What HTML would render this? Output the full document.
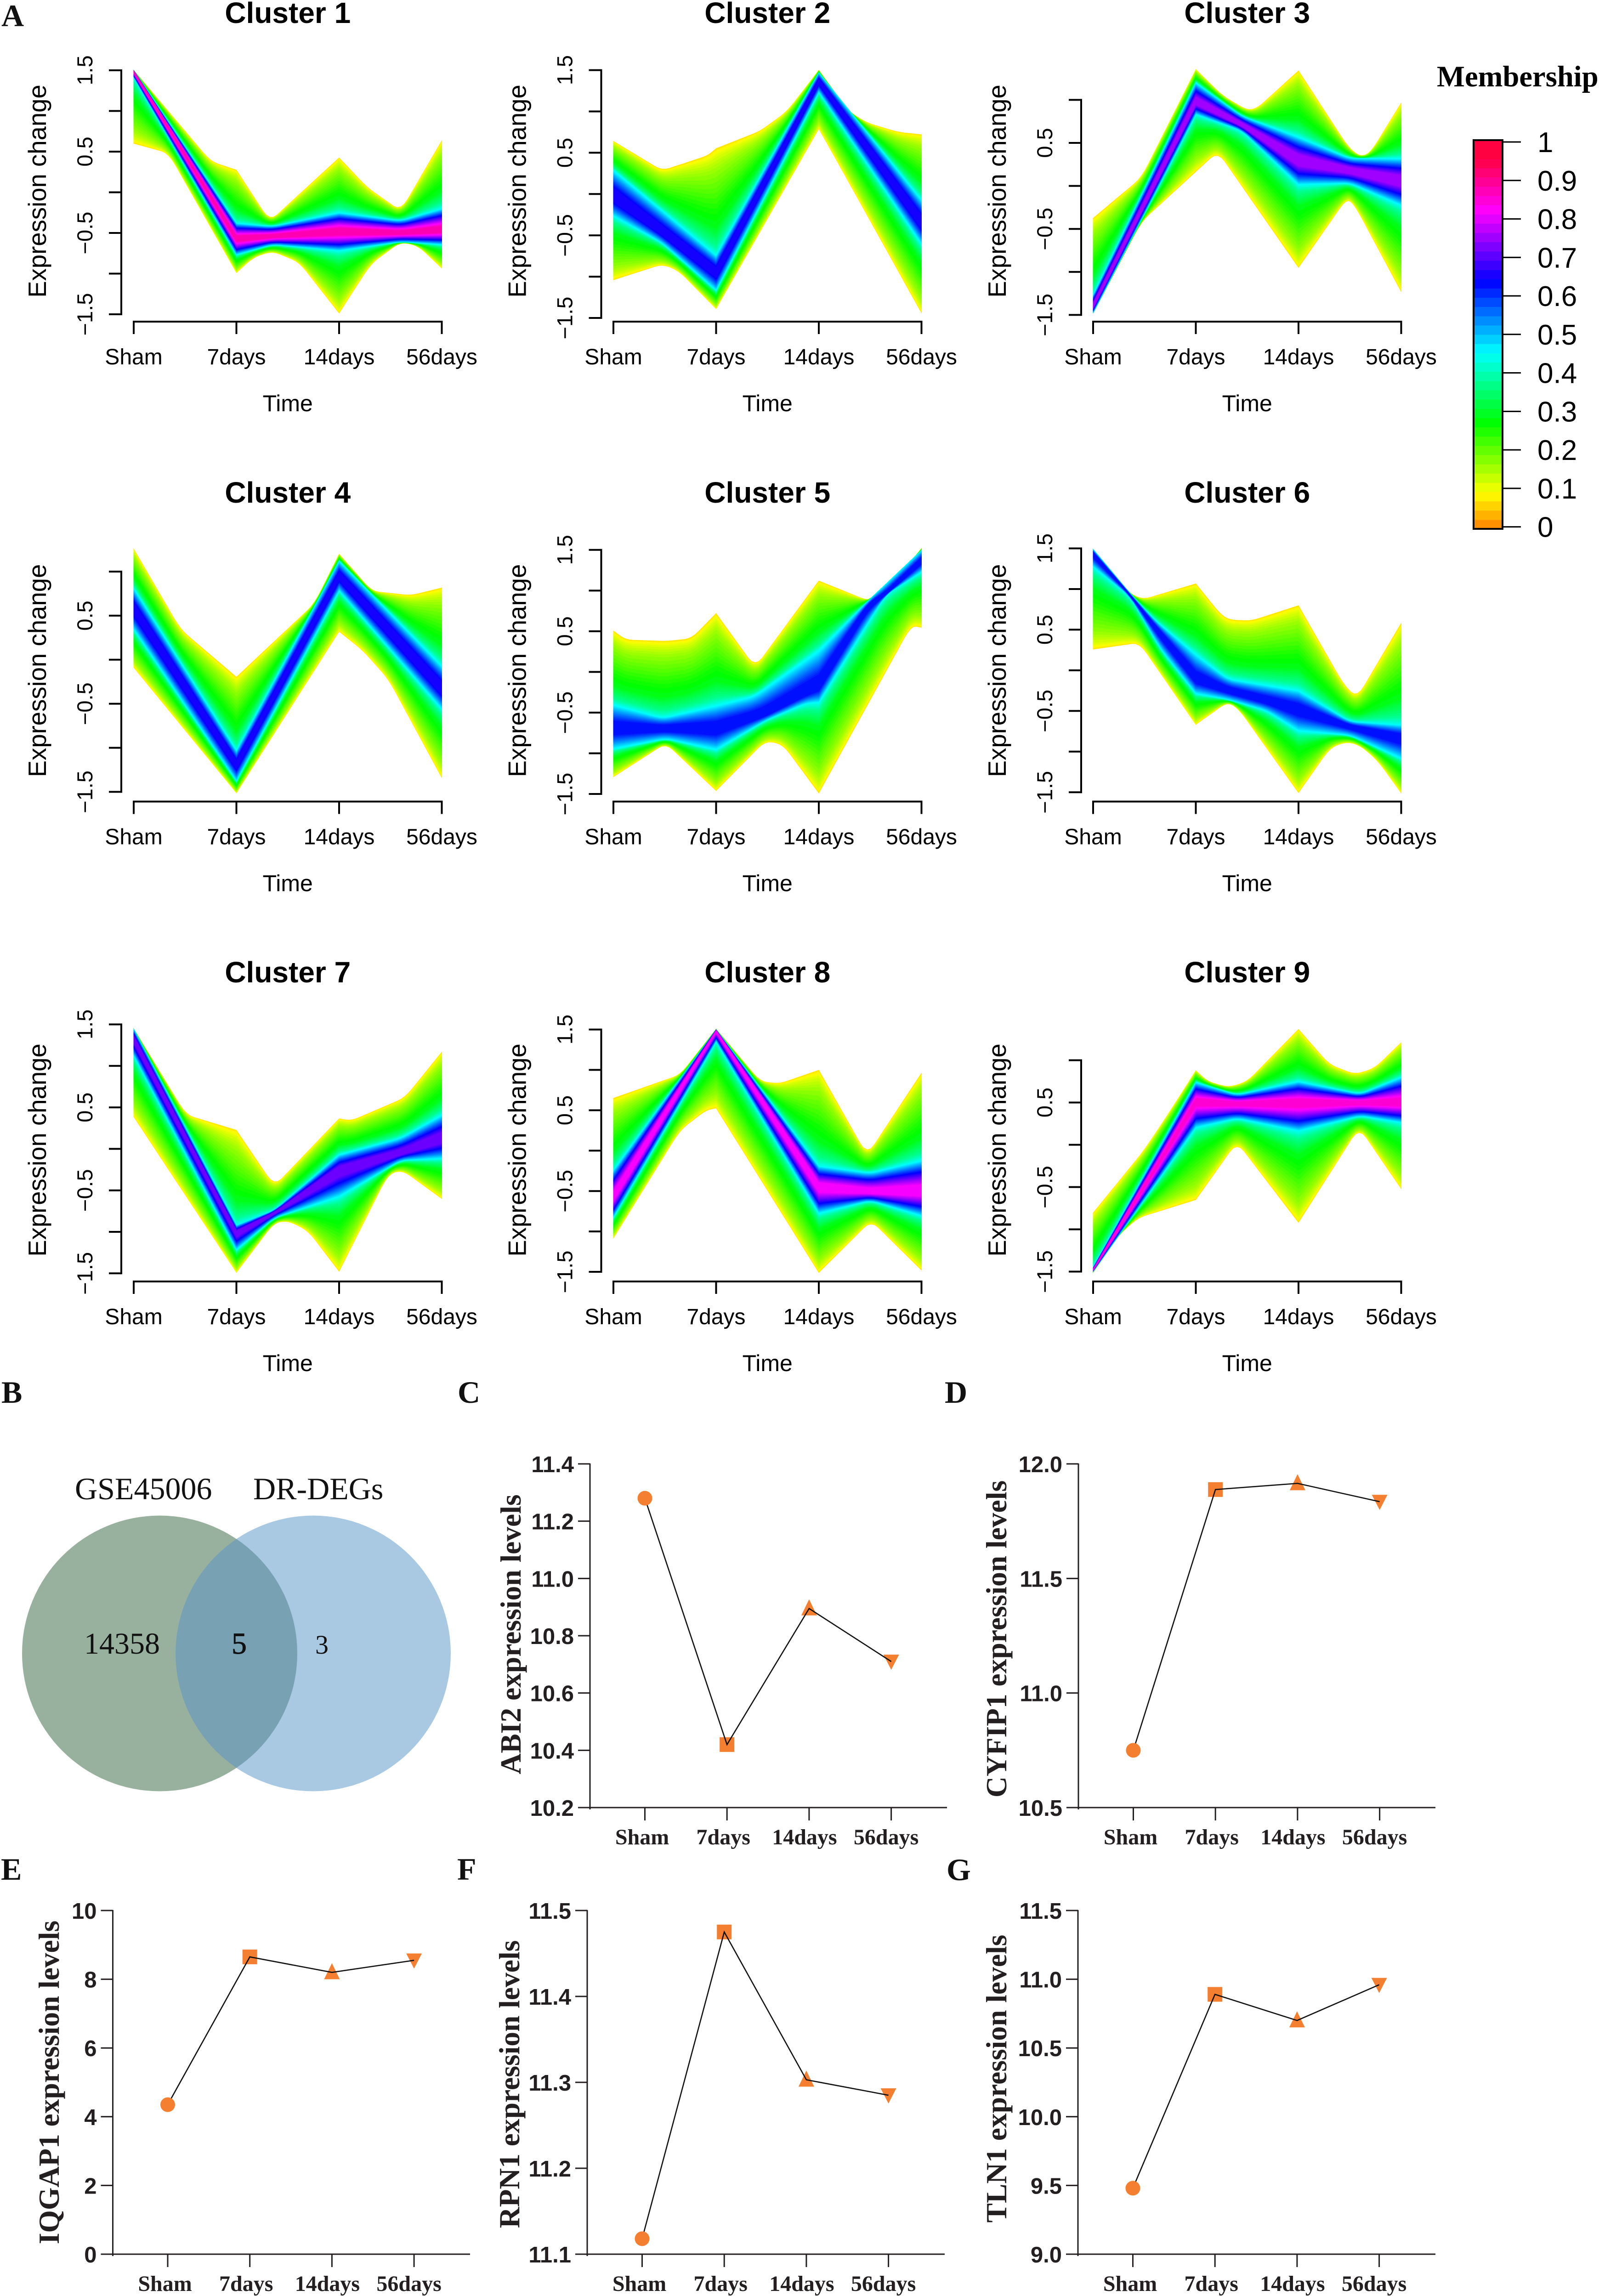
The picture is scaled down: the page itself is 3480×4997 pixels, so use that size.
<!DOCTYPE html>
<html lang="en">
<head>
<meta charset="utf-8">
<title>Expression clusters and gene expression levels</title>
<style>
html,body{margin:0;padding:0;background:#fff;}
svg{display:block;}
.sans{font-family:"Liberation Sans",Arial,sans-serif;}
.serif{font-family:"Liberation Serif","Times New Roman",serif;}
</style>
</head>
<body>
<svg id="figure" xmlns="http://www.w3.org/2000/svg" width="3480" height="4997" viewBox="0 0 3480 4997">
  <rect x="0" y="0" width="3480" height="4997" fill="#ffffff"/>

  <g class="serif" font-weight="700" font-size="68" fill="#111">
    <text x="3" y="57">A</text>
    <text x="3" y="3053">B</text>
    <text x="996" y="3053">C</text>
    <text x="2056" y="3053">D</text>
    <text x="2" y="4091">E</text>
    <text x="995" y="4091">F</text>
    <text x="2060" y="4092">G</text>
  </g>

  <g id="fans"></g>

  <g id="legend">
    <text class="serif" font-weight="700" font-size="64.6" x="3127" y="188" fill="#000">Membership</text>
  </g>

  <g>
    <defs>
      <clipPath id="venn-left-clip"><ellipse cx="347.5" cy="3598.5" rx="299.5" ry="300"/></clipPath>
    </defs>
    <ellipse cx="347.5" cy="3598.5" rx="299.5" ry="300" fill="#97b19e"/>
    <ellipse cx="681.5" cy="3598.5" rx="299.5" ry="300" fill="#a9c8e2"/>
    <ellipse cx="681.5" cy="3598.5" rx="299.5" ry="300" fill="#78a1b4" clip-path="url(#venn-left-clip)"/>
    <g class="serif" fill="#111">
      <text x="163" y="3263" font-size="68">GSE45006</text>
      <text x="551" y="3263" font-size="68">DR-DEGs</text>
      <text x="183" y="3599" font-size="66">14358</text>
      <text x="504" y="3599" font-size="66" stroke="#111" stroke-width="1">5</text>
      <text x="686" y="3599" font-size="58">3</text>
    </g>
  </g>

  <g id="lines"></g>
</svg>

<script>
/* ---------- Cluster fan charts: values ---------- */
const timeLabels = ['Sham', '7days', '14days', '56days'];
const clusterTitles = ['Cluster 1','Cluster 2','Cluster 3','Cluster 4','Cluster 5','Cluster 6','Cluster 7','Cluster 8','Cluster 9'];

/* Each polyline is a flat list: time index, expression change, time index, expression change ... */
const upperEnvelope = [
  [0,1.5, .75,.38, 1,.274, 1.325,-.357, 2,.425, 2.275,.058, 2.6,-.23, 3,.635],
  [0,.639, .474,.284, .917,.465, 1,.552, 1.43,.763, 1.69,1.0, 2,1.5, 2.29,1.0, 2.47,.862, 2.77,.75, 3,.72],
  [0,-.375, .47,.095, 1,1.355, 1.26,1.05, 1.5,.88, 1.6,.905, 2,1.34, 2.485,.45, 2.6,.34, 2.7,.385, 3,.965],
  [0,1.258, .456,.344, 1,-.197, 1.76,.636, 2,1.2, 2.32,.777, 2.7,.73, 3,.816],
  [0,.505, .12,.395, .51,.378, .76,.41, 1,.72, 1.38,.055, 2,1.12, 2.48,.875, 2.65,.957, 3,1.52],
  [0,1.49, .358,.94, .49,.874, 1,1.066, 1.24,.69, 1.33,.62, 1.54,.61, 2,.797, 2.44,-.176, 2.57,-.34, 3,.58],
  [0,1.447, .51,.41, 1,.226, 1.37,-.45, 2,.364, 2.12,.34, 2.64,.616, 3,1.167],
  [0,.65, .65,.94, 1,1.505, 1.43,.856, 1.62,.83, 2,.998, 2.47,-.06, 3,.96],
  [0,-.806, .49,-.074, .737,.376, 1,.878, 1.117,.748, 1.32,.68, 1.5,.748, 2,1.367, 2.3,.95, 2.55,.833, 2.74,.905, 3,1.21]
];
const lowerEnvelope = [
  [0,.6, .338,.483, 1,-.99, 1.166,-.8, 1.35,-.725, 1.61,-.86, 2,-1.486, 2.31,-.88, 2.6,-.61, 2.77,-.66, 3,-.934],
  [0,-1.04, .474,-.85, .63,-.924, 1,-1.39, 2,.79, 2.23,.28, 3,-1.44],
  [0,-1.48, .47,-.416, 1.214,.4, 2,-.95, 2.47,-.144, 2.55,-.23, 3,-1.23],
  [0,-.089, 1,-1.513, 2,.32, 2.23,.106, 2.48,-.22, 3,-1.34],
  [0,-1.29, .51,-.877, 1,-1.46, 1.48,-.847, 1.65,-.89, 2,-1.49, 2.9,.57, 3,.547],
  [0,.258, .45,.34, 1,-.668, 1.31,-.39, 1.42,-.48, 2,-1.507, 2.31,-.95, 2.47,-.88, 2.6,-.925, 2.77,-1.11, 3,-1.51],
  [0,.387, 1,-1.49, 1.37,-.887, 1.51,-.87, 1.7,-.99, 2,-1.477, 2.48,-.3, 2.62,-.26, 3,-.6],
  [0,-1.085, .65,.255, .9,.5, 1,.526, 2,-1.51, 2.51,-.866, 3,-1.48],
  [0,-1.51, .25,-1.065, .44,-.863, 1,-.65, 1.4,.034, 2,-.92, 2.59,.207, 3,-.52]
];
const cyanUpper = [
  [0,1.5, 1,-.38, 1.35,-.42, 2,-.25, 2.6,-.35, 3,-.2],
  [0,.29, 1,-.74, 2,1.47, 3,-.07],
  [0,-1.27, 1,1.2, 1.45,.81, 2,.57, 2.5,.32, 3,.32],
  [0,.81, 1,-1.03, 2,1.12, 3,-.07],
  [0,-.4, .48,-.565, 1,-.41, 1.37,-.296, 2,.266, 2.48,.875, 3,1.495],
  [0,1.49, .358,.95, .6,.62, 1,.2, 1.31,-.105, 2,-.246, 2.5,-.63, 3,-.67],
  [0,1.447, 1,-.92, 1.37,-.74, 2,-.07, 2.6,.13, 3,.41],
  [0,-.24, 1,1.5, 2,-.19, 2.5,-.276, 3,-.12],
  [0,-1.45, 1,.74, 1.4,.59, 2,.75, 2.6,.6, 3,.8]
];
const cyanLower = [
  [0,1.41, 1,-.77, 1.35,-.645, 2,-.72, 2.6,-.61, 3,-.645],
  [0,-.27, .47,-.59, 1,-1.17, 2,1.23, 3,-.61],
  [0,-1.48, 1,.83, 1.45,.64, 2,.01, 2.5,.03, 3,-.23],
  [0,.34, 1,-1.38, 2,.78, 3,-.565],
  [0,-.95, .51,-.823, 1,-.96, 1.48,-.6, 1.87,-.39, 2,-.38, 2.65,.945, 3,1.226],
  [0,1.27, .358,.91, .66,.25, 1,-.29, 1.31,-.36, 1.69,-.5, 2,-.75, 2.5,-.8, 3,-1.09],
  [0,1.12, 1,-1.22, 1.37,-.83, 2,-.58, 2.6,-.14, 3,-.12],
  [0,-.83, 1,1.35, 2,-.78, 2.5,-.62, 3,-.81],
  [0,-1.5, 1,.2, 1.4,.31, 2,.16, 2.6,.34, 3,.26]
];
const coreCentre = [
  [0,1.49, 1,-.57, 1.35,-.54, 2,-.483, 2.6,-.5, 3,-.465],
  [0,-.02, 1,-.95, 2,1.37, 3,-.34],
  [0,-1.4, 1,.98, 1.45,.71, 2,.3, 2.5,.18, 3,.06],
  [0,.58, 1,-1.19, 2,.95, 3,-.33],
  [0,-.694, .5,-.694, 1,-.694, 1.48,-.52, 2,-.167, 2.48,.83, 2.65,.95, 3,1.37],
  [0,1.44, .358,.93, 1,-.105, 1.31,-.246, 2,-.48, 2.5,-.69, 3,-.83],
  [0,1.33, 1,-1.01, 1.37,-.77, 2,-.256, 2.6,-.05, 3,.13],
  [0,-.57, 1,1.49, 2,-.45, 2.5,-.51, 3,-.5],
  [0,-1.48, 1,.51, 1.4,.49, 2,.5, 2.6,.5, 3,.5]
];
/* Highest membership colour reached in each cluster */
const peakMembership = [.88, .66, .76, .66, .63, .63, .72, .82, .85];
/* Printed y tick values for each cluster */
const longTicks = [1.5, 1, .5, 0, -.5, -1, -1.5];
const shortTicks = [1, .5, 0, -.5, -1, -1.5];
const clusterTicks = [longTicks, longTicks, shortTicks, shortTicks, longTicks, longTicks, longTicks, longTicks, shortTicks];
const membershipTicks = ['0','0.1','0.2','0.3','0.4','0.5','0.6','0.7','0.8','0.9','1'];

/* Layout (not data): pixel position of the -1.5 tick and pixels per unit per cluster */
const minusOneHalfPx = [684, 692, 685.4, 1723.4, 1728, 1724.2, 2771.3, 2768, 2767.5];
const pxPerUnit = [177, 179.8, 187.2, 191.75, 177.07, 176.9, 180.6, 175.8, 184];

/* ---------- Line charts: values ---------- */
const abi2Levels = [11.28, 10.42, 10.895, 10.71];
const cyfip1Levels = [10.75, 11.888, 11.915, 11.835];
const iqgap1Levels = [4.35, 8.65, 8.2, 8.55];
const rpn1Levels = [11.118, 11.475, 11.303, 11.285];
const tln1Levels = [9.48, 10.89, 10.70, 10.96];
const abi2Ticks = ['10.2','10.4','10.6','10.8','11.0','11.2','11.4'];
const cyfip1Ticks = ['10.5','11.0','11.5','12.0'];
const iqgap1Ticks = ['0','2','4','6','8','10'];
const rpn1Ticks = ['11.1','11.2','11.3','11.4','11.5'];
const tln1Ticks = ['9.0','9.5','10.0','10.5','11.0','11.5'];

const linePanels = [
  {key:'abi2', title:'ABI2 expression levels', levels:abi2Levels, ticks:abi2Ticks, axisX:1284, right:2061, top:3186, bottom:3934, titleX:1133, titleY:3557},
  {key:'cyfip1', title:'CYFIP1 expression levels', levels:cyfip1Levels, ticks:cyfip1Ticks, axisX:2347, right:3124, top:3186, bottom:3934, titleX:2190, titleY:3567},
  {key:'iqgap1', title:'IQGAP1 expression levels', levels:iqgap1Levels, ticks:iqgap1Ticks, axisX:245.5, right:1023, top:4158, bottom:4906, titleX:128, titleY:4532},
  {key:'rpn1', title:'RPN1 expression levels', levels:rpn1Levels, ticks:rpn1Ticks, axisX:1278, right:2056, top:4158, bottom:4906, titleX:1130, titleY:4536},
  {key:'tln1', title:'TLN1 expression levels', levels:tln1Levels, ticks:tln1Ticks, axisX:2346, right:3124, top:4158, bottom:4906, titleX:2190, titleY:4524}
];

/* ---------- Helpers ---------- */
const SVG_NS = 'http://www.w3.org/2000/svg';
function make(tag, attrs, parent) {
  const el = document.createElementNS(SVG_NS, tag);
  for (const k in attrs) el.setAttribute(k, attrs[k]);
  parent.appendChild(el);
  return el;
}
function membershipColour(m) {
  const hue = Math.min(345, 30 + 330 * m);
  return 'hsl(' + hue.toFixed(1) + ',100%,50%)';
}
function valueAt(flat, t) {
  for (let i = 2; i < flat.length; i += 2) {
    if (t <= flat[i]) {
      const t0 = flat[i - 2], v0 = flat[i - 1], t1 = flat[i], v1 = flat[i + 1];
      return t1 === t0 ? v1 : v0 + (v1 - v0) * (t - t0) / (t1 - t0);
    }
  }
  return flat[flat.length - 1];
}
/* Soften bends between time points: the fan of real gene lines forms a curved hull there.
   Bends on a measured time point stay sharp. */
function roundBends(flat) {
  const out = [];
  const n = flat.length / 2;
  const reach = 0.07;
  for (let i = 0; i < n; i++) {
    const t = flat[2 * i], v = flat[2 * i + 1];
    if (i === 0 || i === n - 1 || Number.isInteger(t)) { out.push(t, v); continue; }
    const pt = flat[2 * i - 2], pv = flat[2 * i - 1], nt = flat[2 * i + 2], nv = flat[2 * i + 3];
    const wa = Math.min(reach, (t - pt) * 0.45), wb = Math.min(reach, (nt - t) * 0.45);
    const at = t - wa, av = v + (pv - v) * wa / (t - pt);
    const bt = t + wb, bv = v + (nv - v) * wb / (nt - t);
    for (let u = 0; u <= 1.0001; u += 0.25) {
      const a = (1 - u) * (1 - u), b = 2 * u * (1 - u), c = u * u;
      out.push(a * at + b * t + c * bt, a * av + b * v + c * bv);
    }
  }
  return out;
}
function knots(lists) {
  const seen = {};
  lists.forEach(function (flat) {
    for (let i = 0; i < flat.length; i += 2) seen[flat[i].toFixed(4)] = flat[i];
  });
  return Object.values(seen).sort(function (a, b) { return a - b; });
}
const CYAN = 0.45, EDGE = 0.075, STEP = 0.0125;
/* Colour stops across the outer band: membership, share of the way from cyan line to hull */
const outerStopMembership = [.45, .38, .30, .27, .22, .17, .12, .075];
const outerStopShare = [0, .08, .25, .4, .6, .8, .93, 1];
function outerShare(m) {
  for (let i = 1; i < outerStopMembership.length; i++) {
    if (m >= outerStopMembership[i]) {
      const f = (outerStopMembership[i - 1] - m) / (outerStopMembership[i - 1] - outerStopMembership[i]);
      return outerStopShare[i - 1] + f * (outerStopShare[i] - outerStopShare[i - 1]);
    }
  }
  return 1;
}
function bandValue(env, core, centre, m, peak) {
  if (m <= CYAN) return core + (env - core) * outerShare(m);
  return centre + (core - centre) * Math.pow((peak + 0.05 - m) / (peak + 0.05 - CYAN), 0.8);
}

/* ---------- Draw cluster panels ---------- */
const fansRoot = document.getElementById('fans');
clusterTitles.forEach(function (title, i) {
  const col = i % 3, row = Math.floor(i / 3);
  const xScale = function (t) { return 291 + 1044 * col + t * 223.5; };
  const yScale = function (v) { return minusOneHalfPx[i] - (v + 1.5) * pxPerUnit[i]; };
  const axisX = 264 + 1044.5 * col;
  const axisY = 700 + 1044.5 * row;
  const midX = xScale(1.5);
  const num = i + 1;

  const panel = make('g', {}, fansRoot);
  
  

  const titleEl = make('text', {x: midX, y: 50 + 1044 * row, 'text-anchor': 'middle', 'font-size': 64, 'font-weight': 700, 'class': 'sans', fill: '#000'}, panel);
  titleEl.textContent = title;
  
  

  /* membership fan */
  const fan = make('g', {}, panel);
  
  
  const up = roundBends(upperEnvelope[i]), lo = roundBends(lowerEnvelope[i]);
  const cu = roundBends(cyanUpper[i]), cl = roundBends(cyanLower[i]), ce = roundBends(coreCentre[i]);
  const ts = knots([up, lo, cu, cl, ce]);
  const peak = peakMembership[i];
  for (let m = EDGE; m <= peak + 1e-6; m += STEP) {
    const top = [], bottom = [];
    ts.forEach(function (t) {
      const centre = valueAt(ce, t);
      const coreUp = Math.max(valueAt(cu, t), centre);
      const coreLow = Math.min(valueAt(cl, t), centre);
      const envUp = Math.max(valueAt(up, t), coreUp);
      const envLow = Math.min(valueAt(lo, t), coreLow);
      top.push(xScale(t).toFixed(1) + ',' + yScale(bandValue(envUp, coreUp, centre, m, peak)).toFixed(1));
      bottom.unshift(xScale(t).toFixed(1) + ',' + yScale(bandValue(envLow, coreLow, centre, m, peak)).toFixed(1));
    });
    const band = make('polygon', {points: top.concat(bottom).join(' '), fill: membershipColour(m), stroke: membershipColour(m), 'stroke-width': 0.8}, fan);
    
    
  }

  /* y axis */
  const ticks = clusterTicks[i];
  const yLine = make('line', {x1: axisX, x2: axisX, y1: yScale(ticks[0]) - 2, y2: yScale(ticks[ticks.length - 1]) + 2, stroke: '#000', 'stroke-width': 4}, panel);
  
  
  ticks.forEach(function (v) {
    const tick = make('line', {x1: axisX - 27, x2: axisX, y1: yScale(v), y2: yScale(v), stroke: '#000', 'stroke-width': 4}, panel);
    
    
    if (Math.abs(v) === 1.5 || Math.abs(v) === 0.5) {
      const lx = axisX - 63, ly = yScale(v);
      const label = make('text', {x: lx, y: ly, 'text-anchor': 'middle', transform: 'rotate(-90 ' + lx + ' ' + ly + ')', 'font-size': 47, 'class': 'sans', fill: '#000'}, panel);
      label.textContent = (v < 0 ? '\u2212' : '') + Math.abs(v).toFixed(1);
      
      
    }
  });
  const yx = axisX - 164, yy = 416 + 1043.5 * row;
  const yTitle = make('text', {x: yx, y: yy, 'text-anchor': 'middle', transform: 'rotate(-90 ' + yx + ' ' + yy + ')', 'font-size': 54.5, 'class': 'sans', fill: '#000'}, panel);
  yTitle.textContent = 'Expression change';
  
  

  /* x axis */
  const xLine = make('line', {x1: xScale(0) - 2, x2: xScale(3) + 2, y1: axisY, y2: axisY, stroke: '#000', 'stroke-width': 4}, panel);
  
  
  timeLabels.forEach(function (name, t) {
    const tick = make('line', {x1: xScale(t), x2: xScale(t), y1: axisY, y2: axisY + 27, stroke: '#000', 'stroke-width': 4}, panel);
    
    
    const label = make('text', {x: xScale(t), y: axisY + 93, 'text-anchor': 'middle', 'font-size': 48, 'class': 'sans', fill: '#000'}, panel);
    label.textContent = name;
    
    
  });
  const xTitle = make('text', {x: midX, y: axisY + 195, 'text-anchor': 'middle', 'font-size': 50, 'class': 'sans', fill: '#000'}, panel);
  xTitle.textContent = 'Time';
  
  
});

/* ---------- Draw membership legend ---------- */
const legendRoot = document.getElementById('legend');
const legendY = function (m) { return 1146.6 - m * 837.6; };
const LEGEND_STEPS = 42;
for (let s = 0; s < LEGEND_STEPS; s++) {
  const y1 = 1151 - (s + 1) * (846 / LEGEND_STEPS);
  const swatch = make('rect', {x: 3207, y: y1, width: 63, height: 846 / LEGEND_STEPS + 0.6, fill: membershipColour((s + 0.5) / LEGEND_STEPS)}, legendRoot);
  
  
}
const legendFrame = make('rect', {x: 3207, y: 305, width: 63, height: 846, fill: 'none', stroke: '#000', 'stroke-width': 4}, legendRoot);


membershipTicks.forEach(function (text) {
  const y = legendY(parseFloat(text));
  const tick = make('line', {x1: 3271, x2: 3310, y1: y, y2: y, stroke: '#000', 'stroke-width': 3}, legendRoot);
  
  
  const label = make('text', {x: 3346, y: y + 22, 'font-size': 62, 'class': 'sans', fill: '#000'}, legendRoot);
  label.textContent = text;
  
  
});

/* ---------- Draw line charts ---------- */
const linesRoot = document.getElementById('lines');
const labelOffsets = [-6, -8, -10, -11];
const ORANGE = '#f47f30', INK = '#231f20';
linePanels.forEach(function (p) {
  const panel = make('g', {}, linesRoot);
  
  

  const tickMin = parseFloat(p.ticks[0]), tickMax = parseFloat(p.ticks[p.ticks.length - 1]);
  const yScale = function (v) { return p.bottom - (v - tickMin) * (p.bottom - p.top) / (tickMax - tickMin); };
  const xScale = function (i) { return p.axisX + 119.5 + i * 178.7; };

  const yLine = make('line', {x1: p.axisX, x2: p.axisX, y1: p.top - 1, y2: p.bottom + 4, stroke: INK, 'stroke-width': 3}, panel);
  
  
  const xLine = make('line', {x1: p.axisX - 26, x2: p.right, y1: p.bottom, y2: p.bottom, stroke: INK, 'stroke-width': 3}, panel);
  
  

  p.ticks.forEach(function (text) {
    const y = yScale(parseFloat(text));
    const tick = make('line', {x1: p.axisX - 26, x2: p.axisX, y1: y, y2: y, stroke: INK, 'stroke-width': 3}, panel);
    
    
    const label = make('text', {x: p.axisX - 35, y: y + 18, 'text-anchor': 'end', 'font-size': 49, 'font-weight': 700, 'class': 'sans', fill: INK}, panel);
    label.textContent = text;
    
    
  });

  const yTitle = make('text', {x: p.titleX, y: p.titleY, 'text-anchor': 'middle', transform: 'rotate(-90 ' + p.titleX + ' ' + p.titleY + ')', 'font-size': 63.5, 'font-weight': 700, 'class': 'serif', fill: INK}, panel);
  yTitle.textContent = p.title;
  
  

  timeLabels.forEach(function (name, i) {
    const tick = make('line', {x1: xScale(i), x2: xScale(i), y1: p.bottom, y2: p.bottom + 28, stroke: INK, 'stroke-width': 3}, panel);
    
    
    const label = make('text', {x: xScale(i) + labelOffsets[i], y: p.bottom + 80, 'text-anchor': 'middle', 'font-size': 48, 'font-weight': 700, 'class': 'serif', fill: INK}, panel);
    label.textContent = name;
    
    
  });

  /* markers under the line, except the circle which sits on top */
  const sx = xScale(1), sy = yScale(p.levels[1]);
  const square = make('rect', {x: sx - 16, y: sy - 16, width: 32, height: 32, fill: ORANGE}, panel);
  
  
  const ux = xScale(2), uy = yScale(p.levels[2]);
  const triUp = make('polygon', {points: ux + ',' + (uy - 20) + ' ' + (ux + 17) + ',' + (uy + 15) + ' ' + (ux - 17) + ',' + (uy + 15), fill: ORANGE}, panel);
  
  
  const dx = xScale(3), dy = yScale(p.levels[3]);
  const triDown = make('polygon', {points: dx + ',' + (dy + 18) + ' ' + (dx + 17) + ',' + (dy - 15) + ' ' + (dx - 17) + ',' + (dy - 15), fill: ORANGE}, panel);
  
  

  const path = make('polyline', {points: p.levels.map(function (v, i) { return xScale(i) + ',' + yScale(v); }).join(' '), fill: 'none', stroke: '#111', 'stroke-width': 2.6}, panel);
  
  

  const circle = make('circle', {cx: xScale(0), cy: yScale(p.levels[0]), r: 16, fill: ORANGE}, panel);
  
  
});
</script>
</body>
</html>
